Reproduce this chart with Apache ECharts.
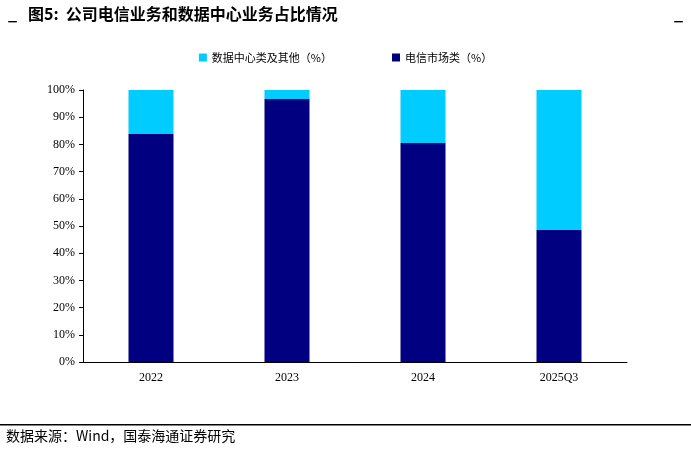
<!DOCTYPE html>
<html><head><meta charset="utf-8">
<script src="https://cdn.jsdelivr.net/npm/echarts@6/dist/echarts.min.js"></script>
<style>body{margin:0;background:#fff}#c{width:691px;height:451px}</style>
</head><body><div id="c"></div>
<script>
const categories=['2022','2023','2024','2025Q3'];
const telecom=[83.8,96.7,80.5,48.5];
const dataCenter=[16.2,3.3,19.5,51.5];
const yTicks=[0,10,20,30,40,50,60,70,80,90,100];
const chart=echarts.init(document.getElementById('c'));
const serif='"Liberation Serif","Noto Sans CJK SC",serif';
chart.setOption({
  animation:false,
  graphic:[
    {type:'text',left:8,top:6,style:{text:'_   图5:  公司电信业务和数据中心业务占比情况',font:'bold 16px "Noto Sans CJK SC"',fill:'#000'}},
    {type:'text',right:8,top:6,style:{text:'_',font:'bold 16px "Noto Sans CJK SC"',fill:'#000'}},
    {type:'rect',shape:{x:0,y:424,width:691,height:1.5},style:{fill:'#000'}},
    {type:'text',left:6,top:429,style:{text:'数据来源：Wind，国泰海通证券研究',font:'14px "Noto Sans CJK SC"',fill:'#000'}}
  ],
  legend:{top:47,left:'center',itemWidth:8,itemHeight:8,itemGap:60,icon:'rect',
    textStyle:{fontFamily:'"Noto Sans CJK SC"',fontSize:11,color:'#000'},
    data:['数据中心类及其他（%）','电信市场类（%）']},
  grid:{left:83,right:64,top:90,bottom:89},
  xAxis:{type:'category',data:categories,
    axisLine:{lineStyle:{color:'#000'}},axisTick:{show:false},
    axisLabel:{fontFamily:serif,fontSize:12,color:'#000',margin:10}},
  yAxis:{type:'value',min:0,max:100,interval:10,
    axisLine:{show:true,lineStyle:{color:'#000'}},axisTick:{show:true,length:4,inside:false,lineStyle:{color:'#000'}},
    splitLine:{show:false},
    axisLabel:{fontFamily:serif,fontSize:12,color:'#000',formatter:v=>v+'%'}},
  series:[
    {name:'电信市场类（%）',type:'bar',stack:'a',data:telecom,barWidth:45,itemStyle:{color:'#000080'}},
    {name:'数据中心类及其他（%）',type:'bar',stack:'a',data:dataCenter,barWidth:45,itemStyle:{color:'#00CCFF'}}
  ]
});
</script></body></html>
